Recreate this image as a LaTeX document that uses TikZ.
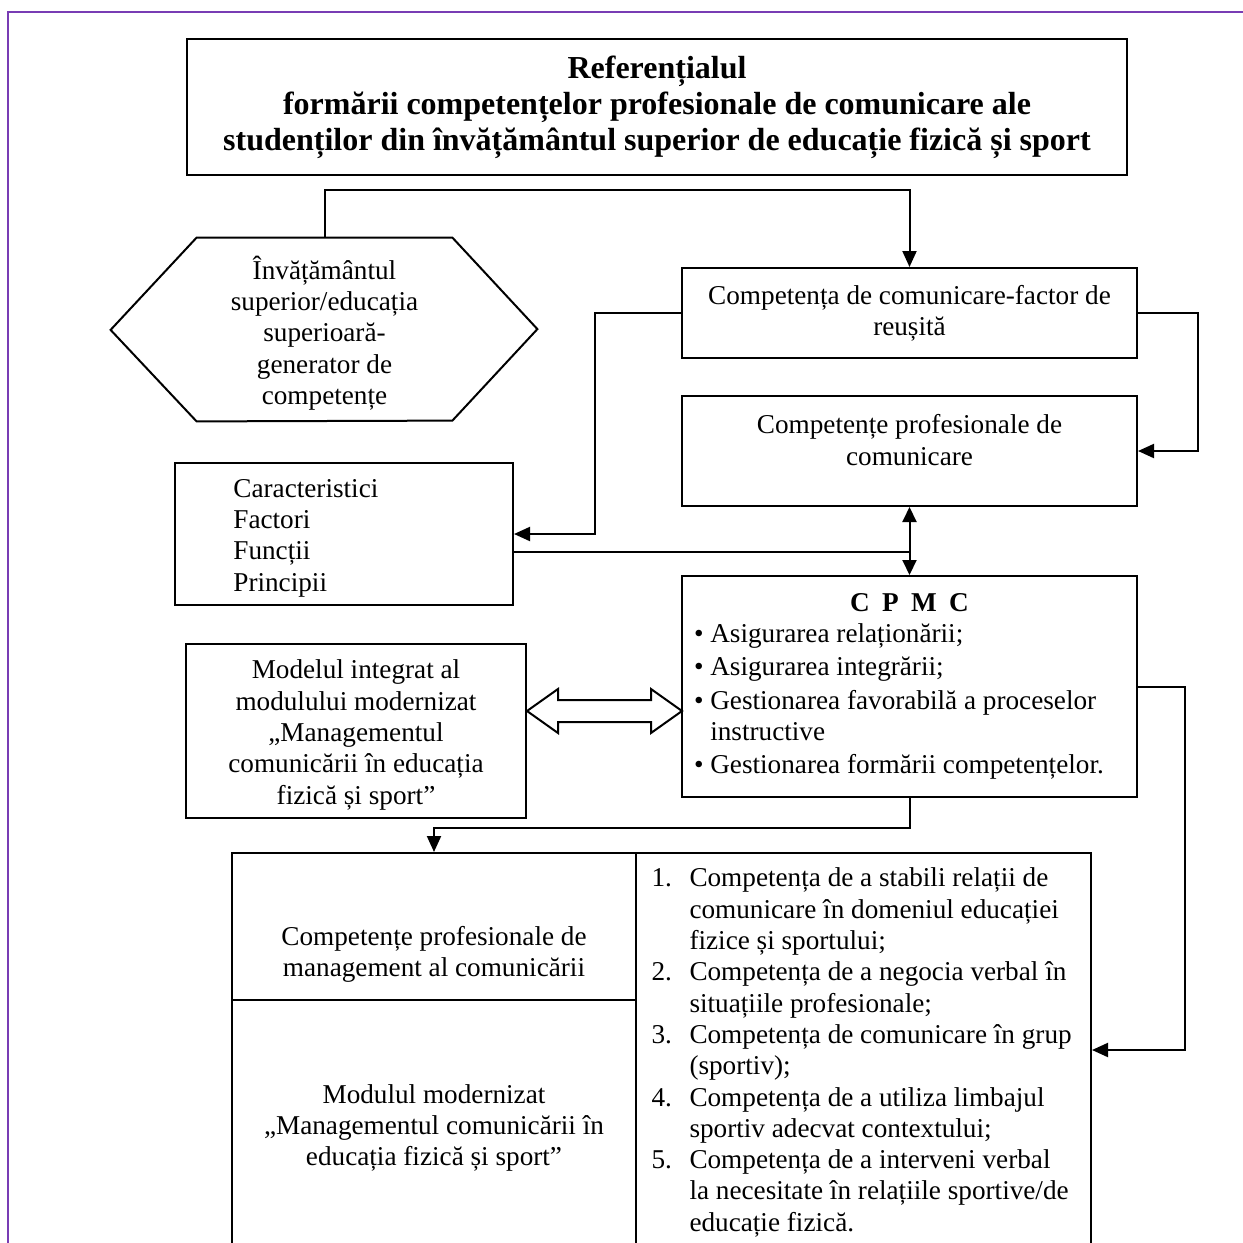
\documentclass[tikz,border=0pt]{standalone}
\usepackage{fontspec}
\setmainfont{Liberation Serif}
\usetikzlibrary{arrows.meta}
\definecolor{framepurple}{RGB}{120,60,180}
\newcommand{\bodysize}{\fontsize{13.6pt}{15.65pt}\selectfont}
\newcommand{\headsize}{\fontsize{16pt}{18pt}\selectfont\bfseries}
\tikzset{box/.style={draw, line width=1pt, inner sep=0pt, font=\bodysize, align=center}}
\tikzset{txt/.style={inner sep=0pt, font=\bodysize, align=center}}
\tikzset{link/.style={line width=1pt}}
\tikzset{alink/.style={line width=1pt, -{Triangle[length=8pt, width=7pt]}}}
\tikzset{dlink/.style={line width=1pt, {Triangle[length=7.5pt, width=7pt]}-{Triangle[length=7.5pt, width=7pt]}}}

\begin{document}
\begin{tikzpicture}[x=0.5pt, y=-0.5pt]
    \useasboundingbox (0,0) rectangle (1243,1243);
    \clip (0,0) rectangle (1243,1243);
    \draw[line width=1pt, framepurple] (8,1250) -- (8,12) -- (1250,12);

    \node[box, font=\headsize, minimum width=470pt, minimum height=68pt] (title) at (657,107)
    {Referențialul\\formării competențelor profesionale de comunicare ale\\studenților din învățământul superior de educație fizică și sport};

    % hexagon
    \node[txt, minimum width=127.5pt, minimum height=91.5pt] (hexa) at (324.5,329.5) {};
    \node[txt] (hexatext) at (324.5,333) {Învățământul\\superior/educația\\superioară-\\generator de\\competențe};
    \draw[line width=1pt] (hexa.north west) -- (hexa.north east) -- ++(85,91.5) -- ++(-85,91.5)
        -- (hexa.south west) -- ++(-86,-91.5) -- cycle;

    \node[box, minimum width=227.5pt, minimum height=45pt] (cc) at (909.5,313)
    {Competența de comunicare-factor de\\reușită};
    \node[box, minimum width=227.5pt, minimum height=55pt, text depth=11pt] (cp) at (909.5,451)
    {Competențe profesionale de\\comunicare};
    \node[box, minimum width=169pt, minimum height=71pt] (feat) at (344,534) {};
    \node[txt, align=flush left, anchor=west] (feattext) at (233,538) {Caracteristici\\Factori\\Funcții\\Principii};
    \node[box, align=flush left, text width=215.5pt, inner xsep=6pt, minimum height=110.5pt] (cpmc) at (909.5,686.5)
    {\hfill\textbf{C\hspace{6.2pt}P\hspace{6.2pt}M\hspace{6.2pt}C}\hfill\null\\
     \textbullet\ Asigurarea relaționării;\\[1pt]
     \textbullet\ Asigurarea integrării;\\[1pt]
     \textbullet\ Gestionarea favorabilă a proceselor\\
     \phantom{\textbullet\ }instructive\\[1pt]
     \textbullet\ Gestionarea formării competențelor.};
    \node[box, minimum width=170pt, minimum height=87pt] (model) at (356,731) {};
    \node[txt] (modeltext) at (356,735)
    {Modelul integrat al\\modulului modernizat\\„Managementul\\comunicării în educația\\fizică și sport”};

    % bottom table
    \node[box, minimum width=202pt, minimum height=73.5pt] (ctop) at (434,926.5) {};
    \node[txt] (ctoptext) at (434,954) {Competențe profesionale de\\management al comunicării};
    \node[box, minimum width=202pt, minimum height=128pt] (cbot) at (434,1128)
    {Modulul modernizat\\„Managementul comunicării în\\educația fizică și sport”};
    \node[box, align=flush left, text width=212pt, inner xsep=7.75pt, minimum height=199.5pt] (clist) at (863.5,1052.5)
    {\makebox[19pt][l]{1.}Competența de a stabili relații de\\
     \hspace*{19pt}comunicare în domeniul educației\\
     \hspace*{19pt}fizice și sportului;\\
     \makebox[19pt][l]{2.}Competența de a negocia verbal în\\
     \hspace*{19pt}situațiile profesionale;\\
     \makebox[19pt][l]{3.}Competența de comunicare în grup\\
     \hspace*{19pt}(sportiv);\\
     \makebox[19pt][l]{4.}Competența de a utiliza limbajul\\
     \hspace*{19pt}sportiv adecvat contextului;\\
     \makebox[19pt][l]{5.}Competența de a interveni verbal\\
     \hspace*{19pt}la necesitate în relațiile sportive/de\\
     \hspace*{19pt}educație fizică.};

    \draw[alink] (hexa.north) -- ++(0,-48) -| (cc.north);
    \draw[alink] (cc.west) -- ++(-86,0) |- (feat.east);
    \draw[alink] (cc.east) -- ++(60,0) |- (cp.east);
    \draw[dlink] (cp.south) -- (cpmc.north);
    \coordinate (join) at (909.5,552);
    \draw[link] (feat.east |- join) -- (join);
    \draw[alink] (cpmc.east) -- ++(47,0) |- ([yshift=1.25pt]clist.east);
    \draw[alink] (cpmc.south) -- ++(0,30) -| (ctop.north);

    % hollow double arrow
    \coordinate (dtip) at (526,711);
    \draw[line width=1pt] (model.east |- dtip) -- ++(31,-22) -- ++(0,11) -- ++(93,0) -- ++(0,-11)
        -- ++(31,22) -- ++(-31,22) -- ++(0,-11) -- ++(-93,0) -- ++(0,11) -- cycle;
\end{tikzpicture}
\end{document}
